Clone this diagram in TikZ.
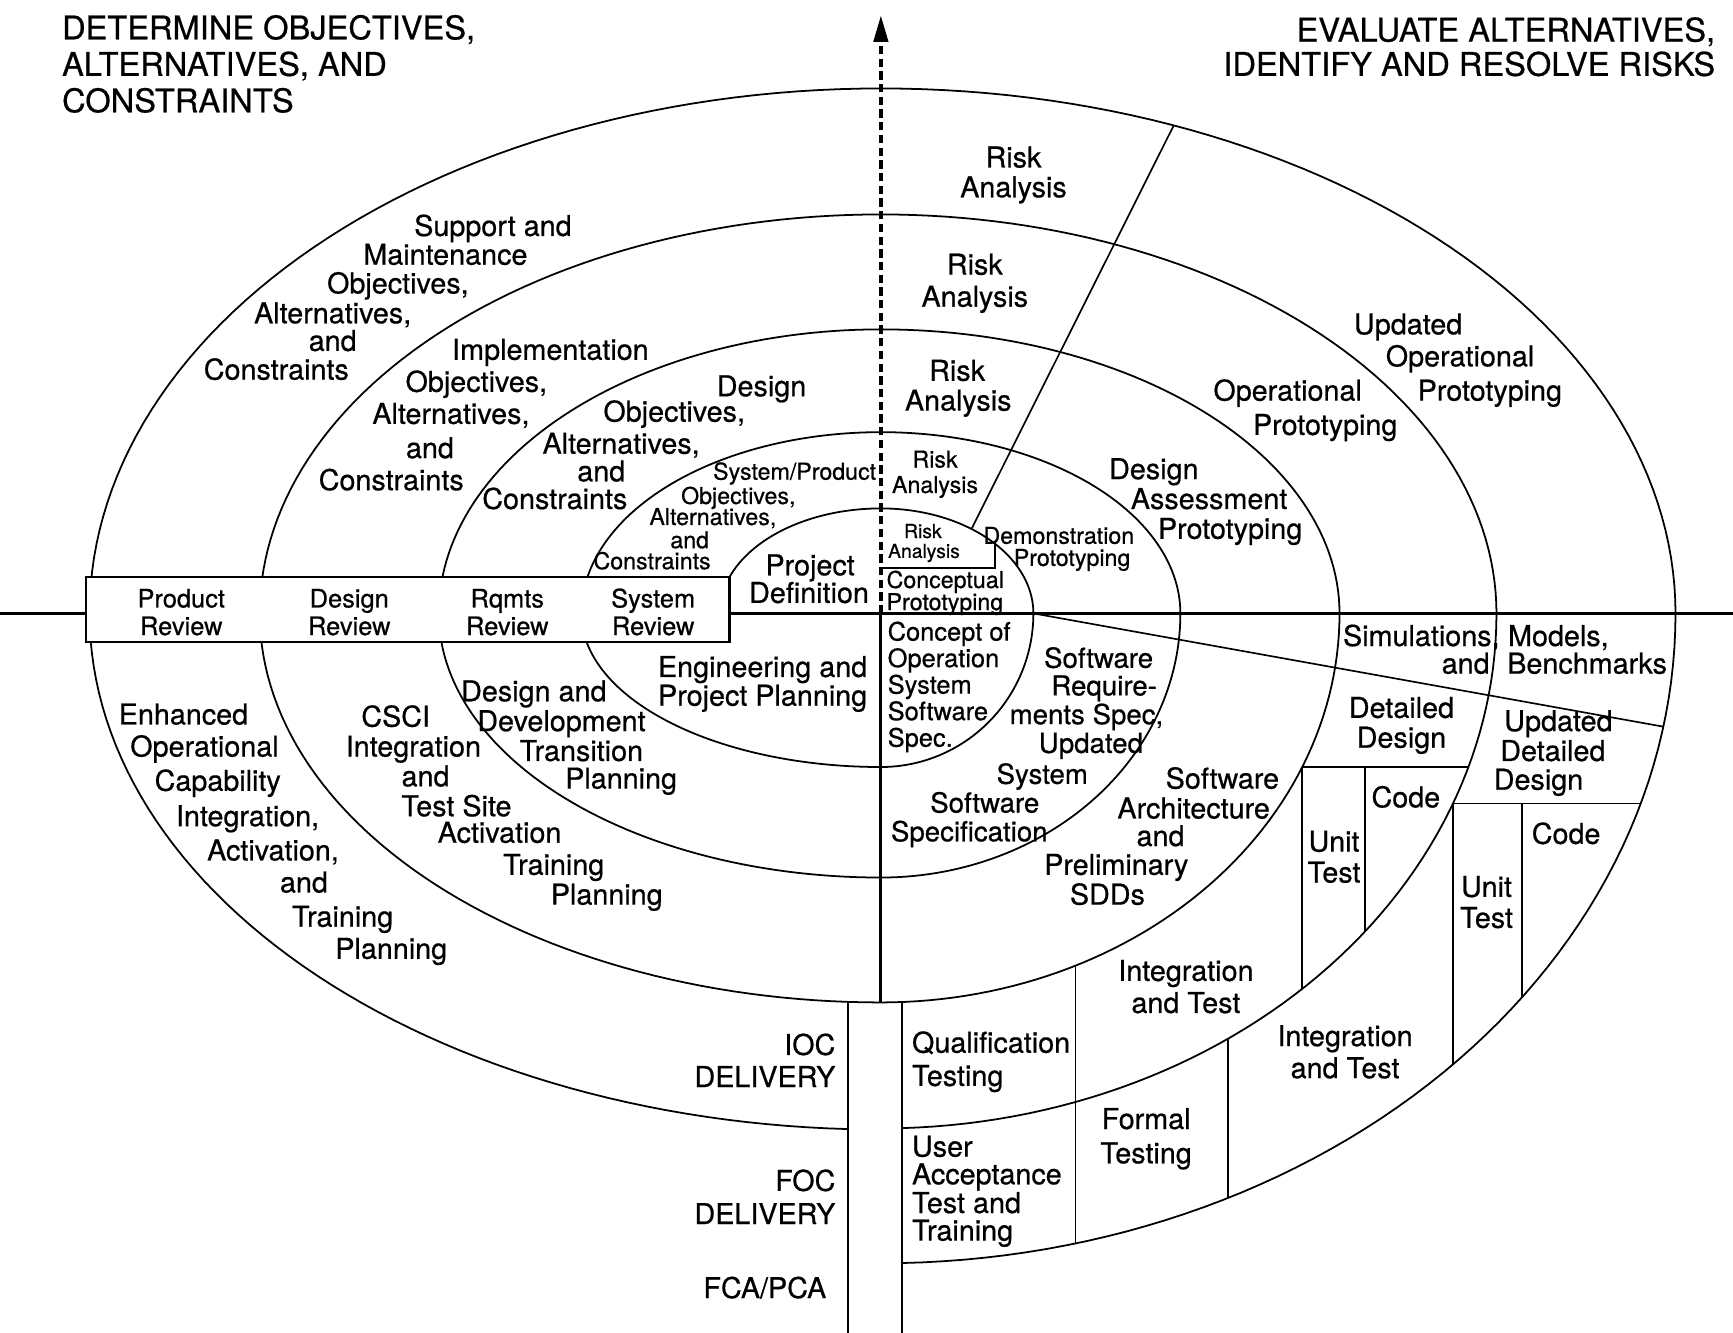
\documentclass[tikz,border=0pt]{standalone}
\usepackage{fontspec}
\setmainfont{TeX Gyre Heros}[FakeBold=0.6]
\usetikzlibrary{arrows.meta}

\newcommand\fsTtl{\fontsize{29.5}{32}\selectfont}
\newcommand\fsBig{\fontsize{26}{28}\selectfont}
\newcommand\fsSrs{\fontsize{25}{27}\selectfont}
\newcommand\fsMid{\fontsize{23}{25}\selectfont}
\newcommand\fsSml{\fontsize{21}{23}\selectfont}
\newcommand\fsTny{\fontsize{17.5}{19}\selectfont}

% y of a lower / upper ellipse arc at a given x, x of a right arc at a given y
% (all ellipses are centred on the crossing of the axes, (797,555))
\newcommand\yl[3]{555+#2*sqrt(1-((#3-797)/#1)^2)}
\newcommand\yu[3]{555-#2*sqrt(1-((#3-797)/#1)^2)}
\newcommand\xr[3]{797+#1*sqrt(1-((#3-555)/#2)^2)}

\tikzset{
  % quarter of an ellipse: {x radius}{y radius}{from angle}{to angle}
  qa/.style n args={4}{insert path={plot[variable=\t,domain=#3:#4,samples=60]({797+#1*cos(\t)},{555+#2*sin(\t)})}},
  qj/.style n args={4}{insert path={-- plot[variable=\t,domain=#3:#4,samples=60]({797+#1*cos(\t)},{555+#2*sin(\t)})}},
  spiral/.style={line width=1.6pt, line join=round, line cap=round},
  axisline/.style={line width=2.7pt},
  divider/.style={line width=1.5pt},
  reviewbox/.style={line width=2.2pt, fill=white},
  dashaxis/.style={line width=3.2pt, dash pattern=on 7.5pt off 4pt,
    -{Triangle[length=24pt,width=13pt]}},
  txt/.style={inner sep=0pt, anchor=base, text=black},
  ttl/.style={txt, font=\fsTtl, yshift=-10.6pt},
  big/.style={txt, font=\fsBig, yshift=-8.5pt},
  srs/.style={txt, font=\fsSrs, yshift=-8.2pt},
  mid/.style={txt, font=\fsMid, yshift=-7.6pt},
  sml/.style={txt, font=\fsSml, yshift=-7pt},
  tny/.style={txt, font=\fsTny, yshift=-5.8pt},
  alW/.style={anchor=base west},
  alE/.style={anchor=base east},
}

\begin{document}
\begin{tikzpicture}[x=1pt,y=-1pt]
\useasboundingbox (0,0) rectangle (1568,1206);
\fill[white] (0,0) rectangle (1568,1206);

% ---------- the spiral ----------
\draw[spiral] [qa={146}{95}{180}{270}] [qj={138}{95}{270}{360}]
  [qj={138}{139}{0}{90}] [qj={271}{139}{90}{180}]
  [qj={271}{164}{180}{270}] [qj={271}{164}{270}{360}]
  [qj={271}{239}{0}{90}] [qj={400}{239}{90}{180}]
  [qj={400}{257}{180}{270}] [qj={415}{257}{270}{360}]
  [qj={415}{352}{0}{90}] [qj={562}{352}{90}{180}]
  [qj={562}{361}{180}{270}] [qj={557}{361}{270}{360}]
  [qj={557}{466}{0}{88.05}];
\draw[spiral] [qa={716}{467}{92.4}{180}] [qj={716}{475}{180}{270}]
  [qj={719}{475}{270}{360}] [qj={719}{588}{0}{88.49}];

% ---------- axes ----------
\coordinate (O) at (797,555);
\coordinate (axW) at (0,555);
\coordinate (axE) at (1568,555);
\coordinate (boxNW) at (78,522);
\coordinate (boxSE) at (660,581);
\coordinate (axS) at (797,907);
\coordinate (axN) at (797,14);
\draw[axisline] (axW) -- (78,555);
\draw[axisline] (660,555) -- (axE);
\draw[axisline] (O) -- (axS);
\draw[reviewbox] (boxNW) rectangle (boxSE);
\draw[dashaxis] (O) -- (axN);

% ---------- dividers, upper right ----------
\coordinate (slA) at (879,{\yu{138}{95}{879}});
\coordinate (slB) at (1062,{\yu{719}{475}{1062}});
\draw[divider] (slA) -- (slB);
\coordinate (rbA) at (797,514);
\coordinate (rbB) at (900,514);
\coordinate (rbC) at (900,{\yu{138}{95}{900}});
\draw[divider] (rbA) -- (rbB) -- (rbC);

% ---------- dividers, lower right ----------
\coordinate (R1) at (935,555);
\coordinate (slC) at (1505,{\yl{719}{588}{1505}});
\draw[divider] (R1) -- (slC);

\pgfmathsetmacro\xddL{\xr{415}{352}{694}}
\pgfmathsetmacro\xddR{\xr{557}{466}{694}}
\coordinate (ddL) at (\xddL,694);
\coordinate (ddR) at (\xddR,694);
\coordinate (ddLb) at (\xddL,{\yl{557}{466}{\xddL}});
\coordinate (ddM) at (1235,694);
\coordinate (ddMb) at (1235,{\yl{557}{466}{1235}});
\draw[divider] (ddL) -- (ddR);
\draw[divider] (ddL) -- (ddLb);
\draw[divider] (ddM) -- (ddMb);

\pgfmathsetmacro\xudL{\xr{557}{466}{727}}
\pgfmathsetmacro\xudR{\xr{719}{588}{727}}
\coordinate (udL) at (\xudL,727);
\coordinate (udR) at (\xudR,727);
\coordinate (udLb) at (\xudL,{\yl{719}{588}{\xudL}});
\coordinate (udM) at (1377,727);
\coordinate (udMb) at (1377,{\yl{719}{588}{1377}});
\draw[divider] (udL) -- (udR);
\draw[divider] (udL) -- (udLb);
\draw[divider] (udM) -- (udMb);

\coordinate (ftT) at (1111,{\yl{557}{466}{1111}});
\coordinate (ftB) at (1111,{\yl{719}{588}{1111}});
\draw[divider] (ftT) -- (ftB);
\coordinate (qtT) at (973,{\yl{415}{352}{973}});
\coordinate (qtB) at (973,{\yl{719}{588}{973}});
\draw[divider] (qtT) -- (qtB);

% ---------- delivery columns ----------
\coordinate (dlT) at (767,{\yl{562}{352}{767}});
\coordinate (dlB) at (767,1206);
\coordinate (drT) at (816,{\yl{415}{352}{816}});
\coordinate (drB) at (816,1206);
\draw[line width=1.8pt] (dlT) -- (dlB);
\draw[line width=1.8pt] (drT) -- (drB);

% ---------- titles ----------
\node[ttl,alW] (t1) at (56,25) {DETERMINE OBJECTIVES,};
\node[ttl,alW] (t2) at (56,58) {ALTERNATIVES, AND};
\node[ttl,alW] (t3) at (56,91) {CONSTRAINTS};
\node[ttl,alE] (t4) at (1552,27) {EVALUATE ALTERNATIVES,};
\node[ttl,alE] (t5) at (1552,58) {IDENTIFY AND RESOLVE RISKS};

% ---------- upper right quadrant ----------
\node[big] (ra5a) at (917,143) {Risk};
\node[big] (ra5b) at (917,170) {Analysis};
\node[big] (ra4a) at (882,240) {Risk};
\node[big] (ra4b) at (882,269) {Analysis};
\node[big] (ra3a) at (866,336) {Risk};
\node[big] (ra3b) at (867,363) {Analysis};
\node[sml] (ra2a) at (846,416) {Risk};
\node[sml] (ra2b) at (846,439) {Analysis};
\node[tny] (ra1a) at (835,481) {Risk};
\node[tny] (ra1b) at (836,499) {Analysis};
\node[sml,alW] (cp1) at (802,525) {Conceptual};
\node[sml,alW] (cp2) at (802,545) {Prototyping};
\node[sml] (dp1) at (958,485) {Demonstration};
\node[sml] (dp2) at (970,505) {Prototyping};
\node[big] (dap1) at (1044,425) {Design};
\node[big] (dap2) at (1094,452) {Assessment};
\node[big] (dap3) at (1113,479) {Prototyping};
\node[big] (op1) at (1165,354) {Operational};
\node[big] (op2) at (1199,385) {Prototyping};
\node[big] (uop1) at (1274,294) {Updated};
\node[big] (uop2) at (1321,323) {Operational};
\node[big] (uop3) at (1348,354) {Prototyping};

% ---------- upper left quadrant ----------
\node[big] (pd1) at (733,512) {Project};
\node[big] (pd2) at (732,537) {Definition};
\node[sml] (sp1) at (719,427) {System/Product};
\node[sml] (sp2) at (668,449) {Objectives,};
\node[sml] (sp3) at (645,468) {Alternatives,};
\node[sml] (sp4) at (624,489) {and};
\node[sml] (sp5) at (590,508) {Constraints};
\node[big] (dg1) at (689,350) {Design};
\node[big] (dg2) at (610,373) {Objectives,};
\node[big] (dg3) at (562,402) {Alternatives,};
\node[big] (dg4) at (544,427) {and};
\node[big] (dg5) at (502,452) {Constraints};
\node[big] (im1) at (498,317) {Implementation};
\node[big] (im2) at (431,346) {Objectives,};
\node[big] (im3) at (408,375) {Alternatives,};
\node[big] (im4) at (389,406) {and};
\node[big] (im5) at (354,435) {Constraints};
\node[big] (sm1) at (446,205) {Support and};
\node[big] (sm2) at (403,231) {Maintenance};
\node[big] (sm3) at (360,257) {Objectives,};
\node[big] (sm4) at (301,284) {Alternatives,};
\node[big] (sm5) at (301,309) {and};
\node[big] (sm6) at (250,335) {Constraints};

% ---------- reviews ----------
\node[mid] (rv1a) at (164,542) {Product};
\node[mid] (rv1b) at (164,567) {Review};
\node[mid] (rv2a) at (316,542) {Design};
\node[mid] (rv2b) at (316,567) {Review};
\node[mid] (rv3a) at (459,542) {Rqmts};
\node[mid] (rv3b) at (459,567) {Review};
\node[mid] (rv4a) at (591,542) {System};
\node[mid] (rv4b) at (591,567) {Review};

% ---------- lower left quadrant ----------
\node[big] (ep1) at (690,604) {Engineering and};
\node[big] (ep2) at (690,630) {Project Planning};
\node[big] (dd1) at (483,626) {Design and};
\node[big] (dd2) at (508,653) {Development};
\node[big] (dd3) at (526,680) {Transition};
\node[big] (dd4) at (562,705) {Planning};
\node[big] (cs1) at (358,649) {CSCI};
\node[big] (cs2) at (374,676) {Integration};
\node[big] (cs3) at (385,703) {and};
\node[big] (cs4) at (413,730) {Test Site};
\node[big] (cs5) at (452,754) {Activation};
\node[big] (cs6) at (501,783) {Training};
\node[big] (cs7) at (549,810) {Planning};
\node[big] (eo1) at (166,647) {Enhanced};
\node[big] (eo2) at (185,676) {Operational};
\node[big] (eo3) at (197,707) {Capability};
\node[big] (eo4) at (224,739) {Integration,};
\node[big] (eo5) at (247,770) {Activation,};
\node[big] (eo6) at (275,799) {and};
\node[big] (eo7) at (310,830) {Training};
\node[big] (eo8) at (354,859) {Planning};
\node[big,alE] (ioc1) at (756,946) {IOC};
\node[big,alE] (ioc2) at (756,975) {DELIVERY};
\node[big,alE] (foc1) at (756,1069) {FOC};
\node[big,alE] (foc2) at (756,1099) {DELIVERY};
\node[big] (fca) at (692,1166) {FCA/PCA};

% ---------- lower right quadrant ----------
\node[mid,alW] (co1) at (803,572) {Concept of};
\node[mid,alW] (co2) at (803,596) {Operation};
\node[mid,alW] (co3) at (803,620) {System};
\node[mid,alW] (co4) at (803,644) {Software};
\node[mid,alW] (co5) at (803,668) {Spec.};
\node[srs] (sr1) at (994,596) {Software};
\node[srs] (sr2) at (999,621) {Require-};
\node[srs] (sr3) at (983,647) {ments Spec,};
\node[srs] (sr4) at (987,673) {Updated};
\node[srs] (sr5) at (943,701) {System};
\node[srs] (sr6) at (891,727) {Software};
\node[srs] (sr7) at (877,753) {Specification};
\node[big] (sa1) at (1106,705) {Software};
\node[big] (sa2) at (1080,732) {Architecture};
\node[big] (sa3) at (1050,757) {and};
\node[big] (sa4) at (1010,783) {Preliminary};
\node[big] (sa5) at (1002,810) {SDDs};
\node[big] (si1) at (1286,576) {Simulations,};
\node[big,alE] (si2) at (1348,601) {and};
\node[big] (mb1) at (1410,576) {Models,};
\node[big] (mb2) at (1436,601) {Benchmarks};
\node[big] (de1) at (1268,641) {Detailed};
\node[big] (de2) at (1268,668) {Design};
\node[big] (cd1) at (1272,722) {Code};
\node[big] (ut1a) at (1207,762) {Unit};
\node[big] (ut1b) at (1207,790) {Test};
\node[big] (ud1) at (1410,653) {Updated};
\node[big] (ud2) at (1405,680) {Detailed};
\node[big] (ud3) at (1392,706) {Design};
\node[big] (cd2) at (1417,755) {Code};
\node[big] (ut2a) at (1345,803) {Unit};
\node[big] (ut2b) at (1345,831) {Test};
\node[big] (it1a) at (1073,879) {Integration};
\node[big] (it1b) at (1073,908) {and Test};
\node[big] (it2a) at (1217,938) {Integration};
\node[big] (it2b) at (1217,967) {and Test};
\node[big] (ft1) at (1037,1013) {Formal};
\node[big] (ft2) at (1037,1044) {Testing};
\node[big,alW] (qt1) at (825,944) {Qualification};
\node[big,alW] (qt2) at (825,974) {Testing};
\node[big,alW] (ua1) at (825,1038) {User};
\node[big,alW] (ua2) at (825,1063) {Acceptance};
\node[big,alW] (ua3) at (825,1089) {Test and};
\node[big,alW] (ua4) at (825,1114) {Training};
\end{tikzpicture}
\end{document}
